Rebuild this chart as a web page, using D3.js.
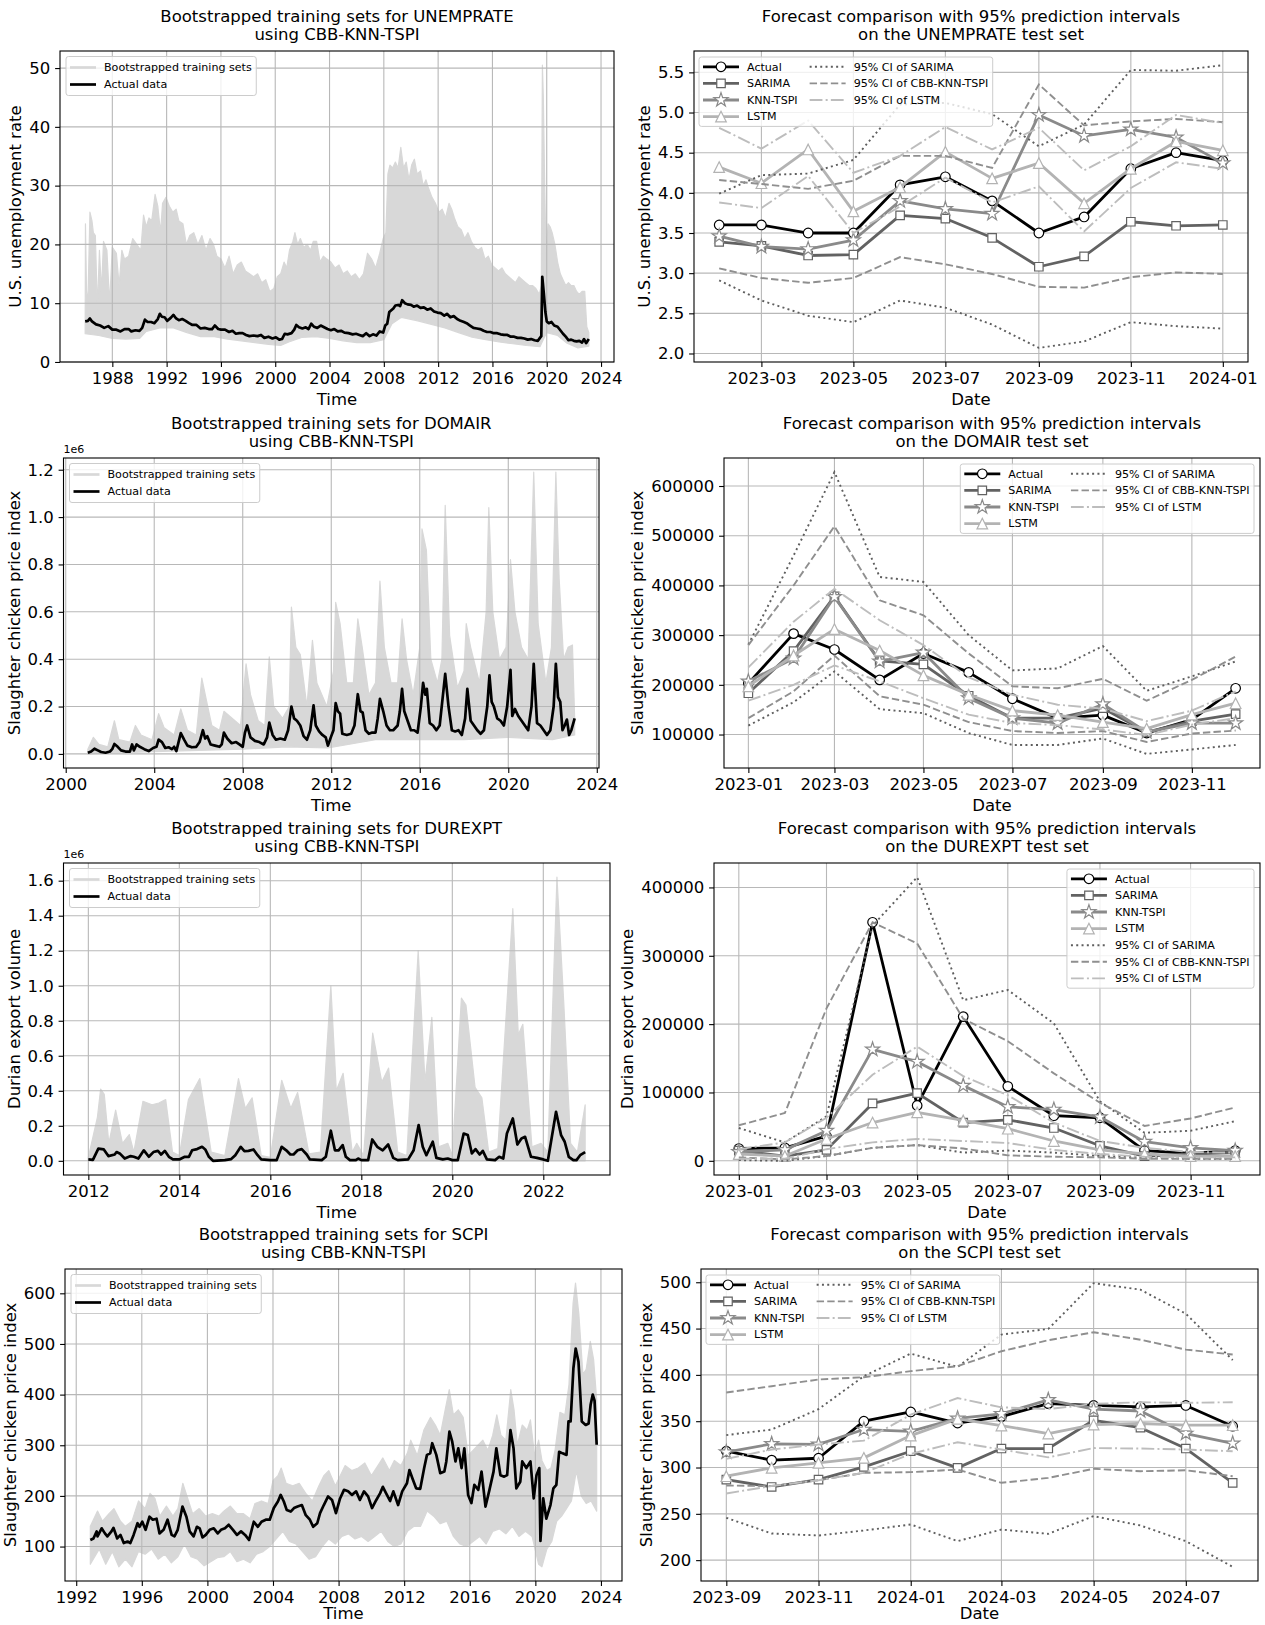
<!DOCTYPE html>
<html>
<head>
<meta charset="utf-8">
<script src="https://cdn.jsdelivr.net/npm/d3@7"></script>
<style>
  body { margin: 0; background: #fff; }
  text { font-family: "DejaVu Sans", "Liberation Sans", sans-serif; }
</style>
</head>
<body>
<svg id="fig" width="1265" height="1625"></svg>
<script>
// ---------- training data (decimal year, value) ----------
var unempActual = [[1986.0,6.9],[1986.2,7.0],[1986.35,7.4],[1986.5,6.9],[1986.8,6.4],[1987.1,6.2],[1987.4,5.8],[1987.7,6.1],[1988.0,5.5],[1988.3,5.5],[1988.6,5.2],[1988.9,5.6],[1989.2,5.6],[1989.4,5.2],[1989.7,5.4],[1990.0,5.3],[1990.2,5.8],[1990.4,7.2],[1990.6,6.8],[1990.85,6.8],[1991.1,6.6],[1991.35,7.3],[1991.5,8.2],[1991.65,7.7],[1991.85,7.6],[1992.05,7.0],[1992.3,7.5],[1992.5,8.0],[1992.7,7.4],[1992.9,7.1],[1993.15,7.3],[1993.4,7.0],[1993.65,6.6],[1993.9,6.3],[1994.2,6.3],[1994.5,5.7],[1994.8,5.8],[1995.1,5.6],[1995.35,5.6],[1995.55,6.2],[1995.8,5.6],[1996.0,5.5],[1996.3,5.5],[1996.6,5.1],[1996.85,5.3],[1997.1,4.8],[1997.35,4.9],[1997.6,4.9],[1997.85,4.6],[1998.1,4.4],[1998.4,4.5],[1998.7,4.4],[1998.95,4.6],[1999.2,4.1],[1999.5,4.3],[1999.8,4.0],[2000.05,4.2],[2000.3,3.8],[2000.5,3.9],[2000.7,4.8],[2000.9,4.7],[2001.2,4.9],[2001.4,5.5],[2001.55,6.3],[2001.75,5.9],[2002.0,5.7],[2002.25,5.9],[2002.45,5.6],[2002.65,6.5],[2002.85,6.0],[2003.1,5.8],[2003.35,6.2],[2003.6,5.9],[2003.85,5.6],[2004.1,5.4],[2004.35,5.6],[2004.6,5.2],[2004.85,5.3],[2005.1,5.0],[2005.4,4.9],[2005.7,4.7],[2005.95,4.8],[2006.2,4.6],[2006.45,4.4],[2006.7,4.9],[2006.95,4.4],[2007.2,4.7],[2007.45,4.5],[2007.7,5.2],[2007.95,5.0],[2008.1,6.2],[2008.25,6.5],[2008.4,8.5],[2008.55,8.8],[2008.7,9.1],[2008.85,9.6],[2009.05,9.7],[2009.2,9.5],[2009.35,10.5],[2009.55,10.0],[2009.75,9.8],[2010.0,9.7],[2010.2,9.4],[2010.45,9.6],[2010.7,9.2],[2010.95,9.3],[2011.2,8.9],[2011.45,9.1],[2011.7,8.6],[2011.95,8.4],[2012.2,8.3],[2012.45,7.9],[2012.65,8.2],[2012.9,7.6],[2013.15,7.8],[2013.4,7.3],[2013.65,7.0],[2013.9,6.8],[2014.1,6.6],[2014.35,6.2],[2014.6,5.8],[2014.85,5.7],[2015.1,5.6],[2015.35,5.3],[2015.6,5.1],[2015.85,5.1],[2016.1,4.9],[2016.35,4.9],[2016.6,4.7],[2016.85,4.6],[2017.1,4.6],[2017.35,4.3],[2017.6,4.3],[2017.85,4.1],[2018.1,4.1],[2018.35,4.0],[2018.6,3.8],[2018.85,3.9],[2019.1,3.7],[2019.35,3.6],[2019.5,4.1],[2019.6,4.4],[2019.67,14.5],[2019.78,11.8],[2019.9,8.5],[2020.0,6.9],[2020.15,6.6],[2020.35,6.8],[2020.55,6.2],[2020.8,6.0],[2021.0,5.4],[2021.2,4.8],[2021.4,4.3],[2021.6,3.7],[2021.8,3.8],[2022.0,3.6],[2022.2,3.5],[2022.4,3.6],[2022.6,3.3],[2022.75,3.9],[2022.9,3.2],[2023.1,3.9]];
var unempBandUpper = [[1986.0,6],[1986.02,23.5],[1986.1,12],[1986.2,10],[1986.35,25.5],[1986.5,24],[1986.6,22],[1986.75,21.5],[1986.9,9],[1987.05,19],[1987.2,12],[1987.35,20.5],[1987.6,19],[1987.8,10],[1988.0,19.5],[1988.3,18.5],[1988.5,13],[1988.7,19],[1988.9,17.5],[1989.2,18],[1989.5,21],[1989.8,20],[1990.1,19],[1990.3,25],[1990.5,23],[1990.7,24.5],[1990.9,24],[1991.15,28.5],[1991.35,26.5],[1991.55,22],[1991.7,27],[1991.95,28],[1992.2,26.5],[1992.45,25.5],[1992.7,26],[1992.9,24],[1993.2,23.5],[1993.45,20],[1993.7,21.5],[1994.0,22],[1994.3,20],[1994.6,21.5],[1994.9,19],[1995.2,21],[1995.45,20],[1995.7,18],[1996.0,17.5],[1996.3,16],[1996.6,18],[1996.9,15],[1997.2,16.5],[1997.5,17],[1997.8,15.5],[1998.1,15],[1998.4,14.5],[1998.7,15],[1999.0,13.5],[1999.3,14],[1999.6,12],[1999.9,12.5],[2000.15,14.5],[2000.4,15],[2000.65,17],[2000.85,16],[2001.05,19],[2001.3,20.5],[2001.45,22],[2001.65,20],[2001.85,21],[2002.1,19.5],[2002.35,20],[2002.6,19],[2002.8,20.5],[2003.05,20.5],[2003.3,17],[2003.55,18],[2003.8,17.5],[2004.1,17],[2004.4,16],[2004.7,16.5],[2005.0,15],[2005.3,15.5],[2005.6,14.5],[2005.9,15],[2006.2,14],[2006.5,15],[2006.8,18.5],[2007.1,17.5],[2007.4,16],[2007.7,18.5],[2007.95,21],[2008.15,22],[2008.3,32],[2008.45,33.5],[2008.65,33],[2008.85,34],[2009.05,33],[2009.25,36.5],[2009.45,33],[2009.65,34],[2009.85,31],[2010.05,33.5],[2010.25,34.5],[2010.45,32],[2010.7,32.5],[2010.9,30],[2011.1,31],[2011.3,29.5],[2011.55,28],[2011.8,27],[2012.05,25.5],[2012.3,26],[2012.55,24.5],[2012.8,27],[2013.0,26],[2013.2,24.5],[2013.45,23],[2013.7,22.5],[2013.95,21],[2014.2,22],[2014.45,20.5],[2014.7,19.5],[2014.95,19],[2015.2,19.5],[2015.45,17.5],[2015.7,18],[2015.95,16.5],[2016.2,16],[2016.45,15.5],[2016.7,16],[2016.95,15],[2017.2,14.5],[2017.45,14],[2017.7,13.5],[2017.95,14.5],[2018.2,14],[2018.45,13.5],[2018.7,13],[2018.95,13],[2019.2,12.5],[2019.45,11.5],[2019.6,13],[2019.68,50.5],[2019.75,45],[2019.85,30],[2019.95,18],[2020.1,23.5],[2020.25,23],[2020.4,22],[2020.6,20],[2020.8,17],[2021.0,15],[2021.2,14],[2021.4,13],[2021.6,13.5],[2021.8,13],[2022.0,13],[2022.2,12],[2022.4,11.5],[2022.6,12],[2022.8,12],[2022.95,6],[2023.1,5]];
var unempBandLower = [[1986.0,4.8],[1987.0,4.5],[1988.0,4.0],[1989.0,3.9],[1990.0,4.0],[1990.5,5.2],[1991.5,5.8],[1992.5,5.8],[1993.5,5.0],[1994.5,4.3],[1995.5,4.3],[1996.5,3.9],[1997.5,3.6],[1998.5,3.3],[1999.5,3.0],[2000.4,2.8],[2001.0,3.4],[2002.0,4.2],[2003.0,4.3],[2004.0,4.0],[2005.0,3.6],[2006.0,3.3],[2007.0,3.3],[2008.0,3.8],[2008.6,6.5],[2009.3,7.6],[2010.5,7.0],[2011.5,6.4],[2012.5,5.8],[2013.5,5.0],[2014.5,4.2],[2015.5,3.8],[2016.5,3.4],[2017.5,3.1],[2018.5,2.8],[2019.5,2.6],[2019.68,3.5],[2020.0,5.0],[2020.8,4.5],[2021.5,3.2],[2022.3,2.4],[2023.1,2.7]];

// DOMAIR and DUREXPT values are in units of 1e6 (the axis offset)
var domairActual = [[2001.0,0.005],[2001.15,0.01],[2001.3,0.022],[2001.45,0.015],[2001.6,0.008],[2001.8,0.005],[2002.0,0.01],[2002.1,0.02],[2002.2,0.042],[2002.35,0.03],[2002.5,0.015],[2002.7,0.01],[2002.9,0.01],[2003.0,0.04],[2003.08,0.015],[2003.2,0.04],[2003.35,0.03],[2003.55,0.02],[2003.75,0.012],[2003.95,0.025],[2004.1,0.03],[2004.2,0.06],[2004.35,0.05],[2004.5,0.025],[2004.65,0.028],[2004.8,0.02],[2004.9,0.03],[2005.0,0.012],[2005.2,0.088],[2005.35,0.06],[2005.5,0.035],[2005.7,0.028],[2005.9,0.03],[2006.05,0.05],[2006.2,0.1],[2006.3,0.065],[2006.4,0.075],[2006.55,0.04],[2006.75,0.035],[2006.95,0.03],[2007.05,0.04],[2007.15,0.09],[2007.3,0.065],[2007.5,0.045],[2007.7,0.05],[2007.85,0.04],[2008.0,0.03],[2008.1,0.09],[2008.2,0.12],[2008.35,0.07],[2008.55,0.055],[2008.75,0.05],[2008.95,0.04],[2009.1,0.07],[2009.2,0.132],[2009.35,0.08],[2009.5,0.06],[2009.7,0.065],[2009.9,0.06],[2010.05,0.1],[2010.2,0.2],[2010.32,0.15],[2010.45,0.14],[2010.6,0.12],[2010.75,0.075],[2010.9,0.06],[2011.05,0.1],[2011.2,0.205],[2011.3,0.12],[2011.45,0.095],[2011.6,0.08],[2011.75,0.07],[2011.85,0.035],[2012.0,0.075],[2012.1,0.1],[2012.2,0.215],[2012.3,0.18],[2012.4,0.17],[2012.5,0.085],[2012.7,0.08],[2012.9,0.085],[2013.05,0.12],[2013.2,0.252],[2013.32,0.18],[2013.42,0.175],[2013.55,0.1],[2013.7,0.085],[2013.85,0.09],[2014.0,0.09],[2014.1,0.15],[2014.2,0.232],[2014.35,0.18],[2014.5,0.12],[2014.65,0.1],[2014.8,0.1],[2015.0,0.12],[2015.1,0.18],[2015.2,0.275],[2015.3,0.18],[2015.45,0.14],[2015.6,0.1],[2015.75,0.1],[2015.9,0.09],[2016.05,0.2],[2016.15,0.3],[2016.25,0.25],[2016.32,0.275],[2016.45,0.13],[2016.6,0.12],[2016.75,0.1],[2016.9,0.12],[2017.05,0.25],[2017.15,0.338],[2017.3,0.2],[2017.45,0.1],[2017.6,0.095],[2017.75,0.1],[2017.9,0.08],[2018.05,0.15],[2018.15,0.275],[2018.3,0.14],[2018.45,0.12],[2018.6,0.1],[2018.75,0.085],[2018.9,0.1],[2019.05,0.2],[2019.15,0.332],[2019.25,0.22],[2019.35,0.2],[2019.5,0.15],[2019.65,0.14],[2019.8,0.12],[2019.95,0.2],[2020.1,0.355],[2020.18,0.16],[2020.3,0.19],[2020.45,0.16],[2020.6,0.14],[2020.75,0.12],[2020.9,0.1],[2021.05,0.2],[2021.15,0.38],[2021.3,0.13],[2021.45,0.12],[2021.6,0.1],[2021.75,0.08],[2021.9,0.1],[2022.05,0.2],[2022.15,0.38],[2022.25,0.24],[2022.35,0.22],[2022.45,0.1],[2022.55,0.12],[2022.65,0.145],[2022.75,0.08],[2022.85,0.1],[2023.0,0.15]];
var domairBandUpper = [[2001.0,0.02],[2001.25,0.07],[2001.5,0.04],[2001.9,0.03],[2002.2,0.14],[2002.4,0.06],[2002.9,0.05],[2003.15,0.12],[2003.4,0.08],[2003.9,0.06],[2004.2,0.17],[2004.45,0.11],[2004.9,0.08],[2005.2,0.19],[2005.5,0.1],[2005.9,0.08],[2006.15,0.32],[2006.35,0.23],[2006.6,0.12],[2006.95,0.1],[2007.15,0.18],[2007.4,0.16],[2007.9,0.12],[2008.15,0.38],[2008.35,0.25],[2008.7,0.14],[2009.0,0.12],[2009.2,0.41],[2009.4,0.2],[2009.8,0.15],[2010.1,0.2],[2010.2,0.62],[2010.4,0.45],[2010.6,0.42],[2010.9,0.2],[2011.15,0.48],[2011.35,0.3],[2011.8,0.2],[2012.1,0.35],[2012.2,0.64],[2012.4,0.55],[2012.7,0.3],[2013.0,0.3],[2013.2,0.57],[2013.4,0.45],[2013.7,0.25],[2014.0,0.3],[2014.2,0.73],[2014.4,0.45],[2014.7,0.3],[2015.0,0.3],[2015.2,0.57],[2015.4,0.4],[2015.7,0.25],[2016.0,0.45],[2016.1,0.95],[2016.3,0.86],[2016.5,0.4],[2016.8,0.3],[2017.0,0.4],[2017.15,1.05],[2017.35,0.5],[2017.7,0.28],[2018.0,0.35],[2018.1,0.55],[2018.3,0.45],[2018.7,0.3],[2019.0,0.6],[2019.12,1.04],[2019.3,0.6],[2019.6,0.4],[2019.9,0.45],[2020.1,0.82],[2020.3,0.6],[2020.6,0.45],[2020.9,0.4],[2021.15,1.19],[2021.35,0.55],[2021.7,0.3],[2021.95,0.45],[2022.15,1.19],[2022.3,0.74],[2022.5,0.4],[2022.7,0.45],[2022.9,0.46],[2023.0,0.15]];
var domairBandLower = [[2001.0,0.0],[2004.0,0.01],[2008.0,0.02],[2010.0,0.03],[2011.85,0.025],[2014.0,0.06],[2016.0,0.06],[2018.0,0.06],[2020.0,0.07],[2022.0,0.06],[2023.0,0.08]];

var durActual = [[2012.0,0.008],[2012.1,0.005],[2012.22,0.07],[2012.34,0.065],[2012.44,0.027],[2012.58,0.036],[2012.62,0.05],[2012.7,0.04],[2012.8,0.013],[2012.93,0.027],[2013.0,0.023],[2013.1,0.013],[2013.22,0.06],[2013.33,0.023],[2013.43,0.05],[2013.53,0.057],[2013.6,0.036],[2013.68,0.057],[2013.77,0.023],[2013.86,0.008],[2014.0,0.008],[2014.12,0.023],[2014.21,0.023],[2014.28,0.06],[2014.39,0.067],[2014.5,0.08],[2014.57,0.065],[2014.65,0.023],[2014.74,0.0],[2015.0,0.004],[2015.14,0.01],[2015.23,0.032],[2015.35,0.08],[2015.43,0.055],[2015.52,0.057],[2015.63,0.065],[2015.72,0.032],[2015.8,0.008],[2016.0,0.004],[2016.14,0.004],[2016.25,0.08],[2016.35,0.06],[2016.44,0.036],[2016.51,0.036],[2016.6,0.06],[2016.69,0.067],[2016.8,0.036],[2016.87,0.008],[2017.13,0.004],[2017.22,0.023],[2017.33,0.172],[2017.42,0.06],[2017.5,0.06],[2017.59,0.09],[2017.66,0.023],[2017.75,0.004],[2017.88,0.004],[2017.93,0.013],[2018.0,0.004],[2018.15,0.004],[2018.24,0.122],[2018.35,0.08],[2018.47,0.06],[2018.59,0.093],[2018.7,0.017],[2018.8,0.004],[2019.03,0.008],[2019.15,0.06],[2019.26,0.204],[2019.35,0.08],[2019.43,0.032],[2019.57,0.109],[2019.65,0.017],[2019.79,0.008],[2019.9,0.013],[2020.0,0.004],[2020.12,0.004],[2020.25,0.156],[2020.34,0.147],[2020.43,0.042],[2020.51,0.067],[2020.6,0.036],[2020.67,0.057],[2020.76,0.008],[2020.94,0.004],[2021.03,0.023],[2021.12,0.013],[2021.2,0.156],[2021.33,0.242],[2021.43,0.093],[2021.52,0.128],[2021.6,0.137],[2021.73,0.023],[2021.86,0.017],[2022.0,0.008],[2022.1,0.0],[2022.28,0.28],[2022.39,0.147],[2022.47,0.109],[2022.56,0.023],[2022.66,0.004],[2022.73,0.004],[2022.81,0.032],[2022.92,0.05]];
var durBandUpper = [[2012.0,0.02],[2012.2,0.25],[2012.27,0.41],[2012.35,0.38],[2012.45,0.1],[2012.6,0.29],[2012.75,0.1],[2012.9,0.15],[2013.0,0.05],[2013.2,0.34],[2013.4,0.32],[2013.55,0.33],[2013.7,0.35],[2013.85,0.05],[2014.0,0.03],[2014.2,0.35],[2014.45,0.47],[2014.7,0.05],[2015.0,0.03],[2015.3,0.47],[2015.45,0.3],[2015.6,0.36],[2015.8,0.03],[2016.0,0.02],[2016.25,0.46],[2016.45,0.3],[2016.6,0.39],[2016.85,0.04],[2017.1,0.05],[2017.33,1.0],[2017.45,0.4],[2017.6,0.5],[2017.8,0.05],[2017.9,0.1],[2018.05,0.03],[2018.25,0.73],[2018.45,0.45],[2018.6,0.53],[2018.8,0.05],[2019.0,0.03],[2019.25,1.2],[2019.4,0.45],[2019.55,0.82],[2019.7,0.08],[2019.9,0.1],[2020.0,0.03],[2020.2,0.93],[2020.3,0.89],[2020.5,0.42],[2020.65,0.36],[2020.8,0.05],[2021.0,0.07],[2021.33,1.44],[2021.45,0.72],[2021.55,0.78],[2021.75,0.08],[2021.95,0.1],[2022.1,0.05],[2022.3,1.62],[2022.45,0.9],[2022.6,0.1],[2022.75,0.05],[2022.92,0.32]];
var durBandLower = [[2012.0,0.0],[2022.92,0.0]];

var scpiActual = [[1992.86,113],[1993.05,116],[1993.25,130],[1993.3,120],[1993.55,136],[1993.75,126],[1993.9,120],[1994.15,130],[1994.27,137],[1994.5,116],[1994.7,123],[1994.9,107],[1995.13,110],[1995.3,107],[1995.5,123],[1995.74,146],[1995.86,139],[1996.03,149],[1996.23,133],[1996.47,159],[1996.67,153],[1996.9,155],[1997.08,126],[1997.33,133],[1997.57,153],[1997.82,123],[1997.99,120],[1998.19,133],[1998.48,179],[1998.72,159],[1998.92,130],[1999.16,120],[1999.36,139],[1999.53,136],[1999.7,118],[1999.9,123],[2000.14,133],[2000.39,136],[2000.63,126],[2000.83,133],[2001.07,136],[2001.3,143],[2001.56,133],[2001.8,123],[2002.05,130],[2002.3,123],[2002.54,113],[2002.83,149],[2003.08,139],[2003.3,149],[2003.56,153],[2003.8,153],[2004.05,176],[2004.3,189],[2004.47,202],[2004.66,189],[2004.84,172],[2005.08,169],[2005.28,176],[2005.5,179],[2005.76,182],[2006.0,162],[2006.25,153],[2006.45,139],[2006.7,146],[2006.87,166],[2007.1,182],[2007.36,199],[2007.6,192],[2007.84,166],[2008.09,195],[2008.33,212],[2008.58,209],[2008.82,202],[2009.07,209],[2009.3,192],[2009.55,209],[2009.8,199],[2010.04,176],[2010.3,192],[2010.53,205],[2010.7,218],[2010.9,205],[2011.14,190],[2011.34,209],[2011.63,182],[2011.88,209],[2012.17,225],[2012.32,251],[2012.5,235],[2012.73,215],[2012.98,214],[2013.22,255],[2013.39,281],[2013.59,284],[2013.71,304],[2013.96,281],[2014.2,245],[2014.45,248],[2014.57,268],[2014.76,327],[2014.93,307],[2015.13,268],[2015.3,294],[2015.5,255],[2015.67,294],[2015.9,202],[2016.1,186],[2016.28,222],[2016.52,212],[2016.72,248],[2016.96,179],[2017.2,212],[2017.45,248],[2017.62,294],[2017.87,241],[2018.1,238],[2018.28,241],[2018.48,330],[2018.67,294],[2018.84,215],[2019.08,228],[2019.2,268],[2019.45,255],[2019.7,268],[2019.9,195],[2020.07,241],[2020.24,255],[2020.31,111],[2020.48,195],[2020.67,155],[2020.92,182],[2021.1,215],[2021.28,222],[2021.45,287],[2021.66,284],[2021.9,281],[2022.02,347],[2022.15,347],[2022.32,452],[2022.46,491],[2022.63,465],[2022.83,347],[2023.07,340],[2023.25,343],[2023.37,380],[2023.5,400],[2023.61,388],[2023.74,301]];
var scpiBandUpper = [[1992.86,140],[1993.3,170],[1993.6,150],[1994.0,165],[1994.3,175],[1994.7,150],[1995.0,140],[1995.4,150],[1995.8,190],[1996.2,175],[1996.5,205],[1996.8,195],[1997.1,160],[1997.5,180],[1997.9,160],[1998.2,175],[1998.5,225],[1998.8,195],[1999.1,165],[1999.5,175],[1999.9,160],[2000.3,165],[2000.7,160],[2001.0,170],[2001.4,180],[2001.8,165],[2002.2,165],[2002.6,155],[2002.9,185],[2003.3,190],[2003.7,185],[2004.0,230],[2004.3,240],[2004.5,255],[2004.8,225],[2005.2,220],[2005.6,225],[2006.0,205],[2006.4,190],[2006.8,220],[2007.1,240],[2007.4,250],[2007.8,220],[2008.1,240],[2008.4,260],[2008.8,250],[2009.2,255],[2009.6,265],[2010.0,240],[2010.4,260],[2010.7,275],[2011.1,250],[2011.4,270],[2011.8,260],[2012.2,285],[2012.4,310],[2012.8,280],[2013.2,330],[2013.6,355],[2013.9,340],[2014.2,320],[2014.5,370],[2014.75,410],[2015.0,360],[2015.3,370],[2015.6,355],[2015.9,280],[2016.2,290],[2016.5,300],[2016.8,310],[2017.1,290],[2017.4,320],[2017.65,360],[2017.9,320],[2018.2,310],[2018.5,410],[2018.7,370],[2018.9,300],[2019.2,340],[2019.5,330],[2019.7,350],[2019.95,280],[2020.2,310],[2020.4,270],[2020.7,250],[2020.95,255],[2021.2,290],[2021.5,365],[2021.8,360],[2022.05,420],[2022.3,580],[2022.45,620],[2022.65,560],[2022.9,440],[2023.1,450],[2023.35,505],[2023.55,470],[2023.74,390]];
var scpiBandLower = [[1992.86,65],[1993.4,95],[1993.8,65],[1994.2,90],[1994.6,60],[1995.0,75],[1995.4,60],[1995.8,90],[1996.2,85],[1996.6,95],[1997.0,75],[1997.4,85],[1997.8,68],[1998.2,80],[1998.6,105],[1999.0,80],[1999.4,75],[1999.8,62],[2000.2,70],[2000.6,78],[2001.0,80],[2001.4,90],[2001.8,70],[2002.2,75],[2002.6,68],[2003.0,85],[2003.4,90],[2003.8,100],[2004.2,115],[2004.6,130],[2005.0,110],[2005.4,105],[2005.8,90],[2006.2,75],[2006.6,80],[2007.0,100],[2007.4,115],[2007.8,105],[2008.2,120],[2008.6,125],[2009.0,115],[2009.4,120],[2009.8,110],[2010.2,120],[2010.6,130],[2011.0,110],[2011.4,100],[2011.8,105],[2012.2,130],[2012.6,140],[2013.0,140],[2013.4,170],[2013.8,160],[2014.2,145],[2014.6,150],[2015.0,120],[2015.4,105],[2015.8,100],[2016.2,110],[2016.6,120],[2017.0,105],[2017.4,130],[2017.8,135],[2018.2,125],[2018.6,140],[2019.0,120],[2019.4,130],[2019.8,120],[2020.2,65],[2020.4,60],[2020.7,95],[2021.0,110],[2021.3,150],[2021.6,160],[2021.9,175],[2022.2,190],[2022.5,250],[2022.8,200],[2023.1,185],[2023.4,190],[2023.74,170]];

// ---------- test-set forecasts (one value per month) ----------
var unempMonths = ["2023-02","2023-03","2023-04","2023-05","2023-06","2023-07","2023-08","2023-09","2023-10","2023-11","2023-12","2024-01"];
var unempTestActual = [3.6,3.6,3.5,3.5,4.1,4.2,3.9,3.5,3.7,4.3,4.5,4.4];
var unempSarima = [3.39,3.34,3.22,3.23,3.72,3.68,3.44,3.08,3.21,3.64,3.59,3.60];
var unempKnn = [3.46,3.33,3.30,3.41,3.90,3.80,3.74,4.97,4.71,4.79,4.69,4.37];
var unempLstm = [4.32,4.12,4.54,3.77,4.07,4.51,4.18,4.37,3.87,4.30,4.64,4.53];
var unempSarimaLo = [2.91,2.66,2.47,2.39,2.66,2.57,2.36,2.07,2.15,2.39,2.34,2.31];
var unempSarimaHi = [3.99,4.22,4.24,4.41,5.10,5.12,4.98,4.58,4.85,5.53,5.52,5.59];
var unempCbbLo = [3.06,2.94,2.88,2.94,3.20,3.11,2.99,2.83,2.82,2.95,3.01,2.99];
var unempCbbHi = [4.16,4.11,4.05,4.15,4.46,4.46,4.31,5.35,4.84,4.89,4.92,4.88];
var unempLstmLo = [3.88,3.81,4.21,3.50,3.83,4.19,3.88,4.08,3.52,4.06,4.38,4.30];
var unempLstmHi = [4.81,4.55,4.90,4.25,4.46,4.82,4.54,4.81,4.28,4.58,4.97,4.87];

var domairMonths = ["2023-01","2023-02","2023-03","2023-04","2023-05","2023-06","2023-07","2023-08","2023-09","2023-10","2023-11","2023-12"];
var domairTestActual = [203000,303000,271000,210000,263000,225000,172000,133000,139000,103000,130000,193000];
var domairSarima = [183000,268000,378000,248000,241000,178000,133000,133000,153000,105000,127000,141000];
var domairKnn = [207000,253000,377000,247000,265000,173000,133000,123000,161000,105000,123000,123000];
var domairLstm = [197000,259000,312000,269000,219000,180000,148000,139000,125000,112000,140000,163000];
var domairSarimaLo = [118000,165000,227000,151000,143000,103000,79000,79000,92000,61000,70000,79000];
var domairSarimaHi = [281000,460000,628000,417000,407000,300000,229000,233000,278000,188000,217000,247000];
var domairCbbLo = [133000,187000,259000,177000,160000,125000,107000,103000,107000,85000,102000,108000];
var domairCbbHi = [280000,400000,519000,370000,340000,263000,197000,193000,212000,168000,210000,257000];
var domairLstmLo = [168000,200000,239000,207000,173000,140000,123000,119000,110000,99000,120000,133000];
var domairLstmHi = [235000,327000,393000,330000,280000,215000,180000,160000,152000,127000,148000,187000];

var durMonths = domairMonths;
var durTestActual = [18000,19000,36000,349000,81000,211000,109000,66000,63000,15000,11000,15000];
var durSarima = [15000,7000,16000,84000,99000,56000,60000,48000,22000,7000,10000,12000];
var durKnn = [13000,16000,44000,163000,145000,110000,79000,75000,64000,28000,19000,15000];
var durLstm = [10000,7000,32000,56000,71000,59000,47000,29000,16000,10000,7000,7000];
var durSarimaLo = [1000,0,7000,19000,23000,12000,15000,12000,7000,5000,3000,3000];
var durSarimaHi = [48000,27000,65000,344000,415000,235000,250000,201000,87000,41000,44000,58000];
var durCbbLo = [5000,2000,7000,19000,23000,18000,8000,6000,5000,3000,3000,3000];
var durCbbHi = [52000,70000,223000,349000,318000,208000,175000,128000,85000,51000,62000,78000];
var durLstmLo = [3000,3000,17000,27000,32000,29000,26000,16000,10000,6000,5000,5000];
var durLstmHi = [17000,27000,63000,126000,167000,124000,96000,56000,29000,19000,13000,12000];

var scpiMonths = ["2023-09","2023-10","2023-11","2023-12","2024-01","2024-02","2024-03","2024-04","2024-05","2024-06","2024-07","2024-08"];
var scpiTestActual = [317.6,308,310,350,360,348,355,369,367,365.5,367,344.6];
var scpiSarima = [287,279,287,300.7,317.6,299.6,320.5,320.5,351,343,320.5,283.5];
var scpiKnn = [316.5,325.5,325,341,339,353,358,373,363,361,336.7,326];
var scpiLstm = [290.6,299.6,305,310.4,334.5,352.5,345.3,336.7,346.4,347.5,345.7,345.7];
var scpiSarimaLo = [245.7,228.8,226.6,232,238.5,220.5,233,228.4,247.5,237.4,220.5,192.8];
var scpiSarimaHi = [335,341,363,398.6,423,408.6,443.5,449.6,499,492,466,416];
var scpiCbbLo = [280.6,280,286.3,294.2,295,297.8,283.5,288.8,298.6,296,297,290.6];
var scpiCbbHi = [381,387.8,395,397.5,404,409.4,425.5,437.4,446,438,427.3,422];
var scpiLstmLo = [272,280,286.3,294.2,314.7,327.3,319.4,311,321,320.5,319.4,317.6];
var scpiLstmHi = [309.4,319.4,324.8,329,357,375,365,363,368.7,370.5,369.8,370.5];

// ---------- tick values ----------
var unempYearTicks = d3.range(1988, 2025, 4);
var domairYearTicks = d3.range(2000, 2025, 4);
var durYearTicks = d3.range(2012, 2023, 2);
var scpiYearTicks = d3.range(1992, 2025, 4);
var unempRateTicks = [0, 10, 20, 30, 40, 50];
var domairE6Ticks = [0, 0.2, 0.4, 0.6, 0.8, 1.0, 1.2];
var durE6Ticks = [0, 0.2, 0.4, 0.6, 0.8, 1.0, 1.2, 1.4, 1.6];
var scpiIndexTicks = [100, 200, 300, 400, 500, 600];
var unempTestTicks = [2.0, 2.5, 3.0, 3.5, 4.0, 4.5, 5.0, 5.5];
var domairTestTicks = [100000, 200000, 300000, 400000, 500000, 600000];
var durTestTicks = [0, 100000, 200000, 300000, 400000];
var scpiTestTicks = [200, 250, 300, 350, 400, 450, 500];

var svg = d3.select('#fig');
var BAND = '#d8d8d8', GRID = '#b8b8b8';
var FS = 16.5, LW = 1.1;
var parseMonth = d3.utcParse('%Y-%m');

function padDomain(ext) {
    var d = (ext[1] - ext[0]) * 0.05;
    return [ext[0] - d, ext[1] + d];
}

function translation(x, y) {
    return 'translate(' + x + ',' + y + ')';
}

// grid, axes, spines, labels and titles shared by every panel
function drawGrid(g, x, y, xt, yt, b) {
    g.selectAll(null).data(xt).enter().append('line')
        .attr('x1', function(d) { return x(d); }).attr('x2', function(d) { return x(d); })
        .attr('y1', b.T).attr('y2', b.B)
        .attr('stroke', GRID).attr('stroke-width', LW);
    g.selectAll(null).data(yt).enter().append('line')
        .attr('y1', function(d) { return y(d); }).attr('y2', function(d) { return y(d); })
        .attr('x1', b.L).attr('x2', b.R)
        .attr('stroke', GRID).attr('stroke-width', LW);
}

function drawFrame(g, x, y, p, b) {
    var ax = g.append('g').attr('transform', translation(0, b.B))
        .call(d3.axisBottom(x).tickValues(p.xTicks).tickFormat(p.xFmt)
            .tickSize(4.9).tickPadding(4.9).tickSizeOuter(0));
    var ay = g.append('g').attr('transform', translation(b.L, 0))
        .call(d3.axisLeft(y).tickValues(p.yTicks).tickFormat(p.yFmt)
            .tickSize(4.9).tickPadding(4.9).tickSizeOuter(0));
    [ax, ay].forEach(function(a) {
        a.select('.domain').remove();
        a.attr('font-size', FS).attr('font-family', '"DejaVu Sans", sans-serif');
        a.selectAll('text').attr('fill', '#000');
        a.selectAll('line').attr('stroke', '#000').attr('stroke-width', LW);
    });
    g.append('rect').attr('x', b.L).attr('y', b.T)
        .attr('width', b.R - b.L).attr('height', b.B - b.T)
        .attr('fill', 'none').attr('stroke', '#000').attr('stroke-width', LW);

    // the axis group's bbox is in its own (translated) coordinates
    var bb = ay.node().getBBox();
    g.append('text')
        .attr('transform', translation(b.L + bb.x - 13.5, (b.T + b.B) / 2) + ' rotate(-90)')
        .attr('dy', '0.35em').attr('text-anchor', 'middle')
        .attr('font-size', FS).text(p.ylabel);
    // keep the bottom row's label inside the page
    g.append('text').attr('x', (b.L + b.R) / 2).attr('y', Math.min(b.B + 42.5, 1619))
        .attr('text-anchor', 'middle').attr('font-size', FS).text(p.xlabel);
    p.title.forEach(function(t, i) {
        g.append('text').attr('x', (b.L + b.R) / 2)
            .attr('y', b.T - 11.5 - 18 * (p.title.length - 1 - i))
            .attr('text-anchor', 'middle').attr('font-size', FS).text(t);
    });
    if (p.offset) {
        g.append('text').attr('x', b.L).attr('y', b.T - 5)
            .attr('font-size', 11).text(p.offset);
    }
}

// legend: entries laid out column-wise like matplotlib
function drawLegend(g, entries, o) {
    var lg = g.append('g');
    var perCol = Math.ceil(entries.length / o.ncol);
    var cols = [];
    entries.forEach(function(e, i) {
        var c = Math.floor(i / perCol);
        (cols[c] = cols[c] || []).push({ e: e, r: i % perCol });
    });
    var cx = 4;
    cols.forEach(function(col) {
        var maxW = 0;
        col.forEach(function(it) {
            var yy = o.padY + it.r * o.rowH;
            var e = it.e;
            lg.append('line').attr('x1', cx).attr('x2', cx + o.handle)
                .attr('y1', yy).attr('y2', yy)
                .attr('stroke', e.color).attr('stroke-width', e.width)
                .attr('stroke-dasharray', e.dash || null);
            if (e.marker) {
                lg.append('path').attr('d', MARK[e.marker])
                    .attr('transform', translation(cx + o.handle / 2, yy))
                    .attr('fill', '#fff').attr('stroke', e.color).attr('stroke-width', 1.2);
            }
            var t = lg.append('text').attr('x', cx + o.handle + 8).attr('y', yy)
                .attr('dy', '0.35em').attr('font-size', 11.1).text(e.label);
            maxW = Math.max(maxW, t.node().getComputedTextLength());
        });
        cx += o.handle + 8 + maxW + o.colGap;
    });
    var w = cx - o.colGap + 4.5;
    var h = o.padY * 2 + (perCol - 1) * o.rowH;
    lg.insert('rect', ':first-child').attr('width', w).attr('height', h)
        .attr('rx', 2.5).attr('fill', '#fff').attr('fill-opacity', 0.8)
        .attr('stroke', '#cccccc').attr('stroke-width', 1);
    var x0 = o.right ? o.x - w : o.x;
    lg.attr('transform', translation(x0, o.y));
}

var MARK = {
    circle: d3.symbol(d3.symbolCircle, 72)(),
    square: d3.symbol(d3.symbolSquare, 72)(),
    star: d3.symbol(d3.symbolStar, 62)(),
    triangle: 'M0,-5.3L5.3,5.3L-5.3,5.3Z'
};

// ---------- left panels: bootstrapped band + actual series ----------
function leftPanel(p) {
    var b = p.box;
    var g = svg.append('g');
    var x = d3.scaleLinear().domain(padDomain(d3.extent(p.actual, function(d) { return d[0]; })))
        .range([b.L, b.R]);
    var allY = p.upper.concat(p.lower, p.actual);
    var y = d3.scaleLinear().domain(padDomain(d3.extent(allY, function(d) { return d[1]; })))
        .range([b.B, b.T]);
    var line = d3.line().x(function(d) { return x(d[0]); }).y(function(d) { return y(d[1]); });

    g.append('path').attr('d', line(p.upper.concat(p.lower.slice().reverse())) + 'Z')
        .attr('fill', BAND).attr('stroke', BAND).attr('stroke-width', 1.2)
        .attr('stroke-linejoin', 'round');
    drawGrid(g, x, y, p.xTicks, p.yTicks, b);
    g.append('path').attr('d', line(p.actual))
        .attr('fill', 'none').attr('stroke', '#000').attr('stroke-width', 2.7)
        .attr('stroke-linejoin', 'round');
    drawFrame(g, x, y, p, b);
    drawLegend(g, [
        { label: 'Bootstrapped training sets', color: BAND, width: 2.7 },
        { label: 'Actual data', color: '#000', width: 2.7 }
    ], { x: b.L + 6, y: b.T + 5.5, ncol: 1, handle: 26, rowH: 17, padY: 11, colGap: 0 });
}

// ---------- right panels: forecasts with 95% intervals ----------
var STY = {
    actual: { label: 'Actual', color: '#000000', width: 2.8, marker: 'circle' },
    sarima: { label: 'SARIMA', color: '#626262', width: 2.8, marker: 'square' },
    knn: { label: 'KNN-TSPI', color: '#8a8a8a', width: 2.8, marker: 'star' },
    lstm: { label: 'LSTM', color: '#b3b3b3', width: 2.8, marker: 'triangle' },
    ciSarima: { label: '95% CI of SARIMA', color: '#5e5e5e', width: 1.9, dash: '2,3.3' },
    ciCbb: { label: '95% CI of CBB-KNN-TSPI', color: '#8f8f8f', width: 1.9, dash: '7.4,3.2' },
    ciLstm: { label: '95% CI of LSTM', color: '#bdbdbd', width: 1.9, dash: '12.8,3.2,2,3.2' }
};

function rightPanel(p) {
    var b = p.box;
    var g = svg.append('g');
    var dates = p.months.map(parseMonth);
    var x = d3.scaleUtc().domain(padDomain(d3.extent(dates, function(d) { return +d; })))
        .range([b.L, b.R]);
    var allY = [];
    p.series.concat(p.bands).forEach(function(s) {
        (s.values ? [s.values] : [s.lo, s.hi]).forEach(function(v) { allY = allY.concat(v); });
    });
    var y = d3.scaleLinear().domain(padDomain(d3.extent(allY))).range([b.B, b.T]);
    p.xTicks = d3.utcMonth.every(2).range(x.domain()[0], x.domain()[1]);
    var line = d3.line().x(function(d, i) { return x(dates[i]); }).y(function(d) { return y(d); });

    drawGrid(g, x, y, p.xTicks, p.yTicks, b);
    p.series.forEach(function(s) {
        var st = STY[s.key];
        g.append('path').attr('d', line(s.values)).attr('fill', 'none')
            .attr('stroke', st.color).attr('stroke-width', st.width).attr('stroke-linejoin', 'round');
        g.selectAll(null).data(s.values).enter().append('path')
            .attr('d', MARK[st.marker])
            .attr('transform', function(d, i) { return translation(x(dates[i]), y(d)); })
            .attr('fill', '#fff').attr('stroke', st.color).attr('stroke-width', 1.2);
    });
    p.bands.forEach(function(s) {
        var st = STY[s.key];
        [s.lo, s.hi].forEach(function(v) {
            g.append('path').attr('d', line(v)).attr('fill', 'none')
                .attr('stroke', st.color).attr('stroke-width', st.width)
                .attr('stroke-dasharray', st.dash);
        });
    });
    drawFrame(g, x, y, p, b);
    var entries = ['actual', 'sarima', 'knn', 'lstm', 'ciSarima', 'ciCbb', 'ciLstm']
        .map(function(k) { return STY[k]; });
    drawLegend(g, entries, {
        x: p.legendRight ? b.R - 6 : b.L + 5, y: b.T + 6, right: p.legendRight,
        ncol: p.legendCols, handle: 36, rowH: 16.6, padY: 9.8, colGap: 12
    });
}

function testSeries(a, s, k, l) {
    return [{ key: 'actual', values: a }, { key: 'sarima', values: s },
            { key: 'knn', values: k }, { key: 'lstm', values: l }];
}
function testBands(sl, sh, cl, ch, ll, lh) {
    return [{ key: 'ciSarima', lo: sl, hi: sh }, { key: 'ciCbb', lo: cl, hi: ch },
            { key: 'ciLstm', lo: ll, hi: lh }];
}

var fmtInt = d3.format('d'), fmt1 = d3.format('.1f'), fmtMonth = d3.utcFormat('%Y-%m');
var leftTitle = function(n) { return ['Bootstrapped training sets for ' + n, 'using CBB-KNN-TSPI']; };
var rightTitle = function(n) { return ['Forecast comparison with 95% prediction intervals', 'on the ' + n + ' test set']; };

leftPanel({ box: { L: 60, T: 51, R: 614, B: 362 }, actual: unempActual, upper: unempBandUpper, lower: unempBandLower,
    xTicks: unempYearTicks, xFmt: fmtInt, yTicks: unempRateTicks, yFmt: fmtInt,
    title: leftTitle('UNEMPRATE'), xlabel: 'Time', ylabel: 'U.S. unemployment rate' });
leftPanel({ box: { L: 63.5, T: 458, R: 599, B: 768 }, actual: domairActual, upper: domairBandUpper, lower: domairBandLower,
    xTicks: domairYearTicks, xFmt: fmtInt, yTicks: domairE6Ticks, yFmt: fmt1, offset: '1e6',
    title: leftTitle('DOMAIR'), xlabel: 'Time', ylabel: 'Slaughter chicken price index' });
leftPanel({ box: { L: 63.5, T: 863, R: 610, B: 1175 }, actual: durActual, upper: durBandUpper, lower: durBandLower,
    xTicks: durYearTicks, xFmt: fmtInt, yTicks: durE6Ticks, yFmt: fmt1, offset: '1e6',
    title: leftTitle('DUREXPT'), xlabel: 'Time', ylabel: 'Durian export volume' });
leftPanel({ box: { L: 65, T: 1269, R: 622, B: 1581 }, actual: scpiActual, upper: scpiBandUpper, lower: scpiBandLower,
    xTicks: scpiYearTicks, xFmt: fmtInt, yTicks: scpiIndexTicks, yFmt: fmtInt,
    title: leftTitle('SCPI'), xlabel: 'Time', ylabel: 'Slaughter chicken price index' });

rightPanel({ box: { L: 694, T: 51, R: 1248, B: 362 }, months: unempMonths,
    series: testSeries(unempTestActual, unempSarima, unempKnn, unempLstm),
    bands: testBands(unempSarimaLo, unempSarimaHi, unempCbbLo, unempCbbHi, unempLstmLo, unempLstmHi),
    xFmt: fmtMonth, yTicks: unempTestTicks, yFmt: fmt1, legendCols: 2, legendRight: false,
    title: rightTitle('UNEMPRATE'), xlabel: 'Date', ylabel: 'U.S. unemployment rate' });
rightPanel({ box: { L: 724, T: 458, R: 1260, B: 768 }, months: domairMonths,
    series: testSeries(domairTestActual, domairSarima, domairKnn, domairLstm),
    bands: testBands(domairSarimaLo, domairSarimaHi, domairCbbLo, domairCbbHi, domairLstmLo, domairLstmHi),
    xFmt: fmtMonth, yTicks: domairTestTicks, yFmt: fmtInt, legendCols: 2, legendRight: true,
    title: rightTitle('DOMAIR'), xlabel: 'Date', ylabel: 'Slaughter chicken price index' });
rightPanel({ box: { L: 714, T: 863, R: 1260, B: 1175 }, months: durMonths,
    series: testSeries(durTestActual, durSarima, durKnn, durLstm),
    bands: testBands(durSarimaLo, durSarimaHi, durCbbLo, durCbbHi, durLstmLo, durLstmHi),
    xFmt: fmtMonth, yTicks: durTestTicks, yFmt: fmtInt, legendCols: 1, legendRight: true,
    title: rightTitle('DUREXPT'), xlabel: 'Date', ylabel: 'Durian export volume' });
rightPanel({ box: { L: 701, T: 1269, R: 1258, B: 1581 }, months: scpiMonths,
    series: testSeries(scpiTestActual, scpiSarima, scpiKnn, scpiLstm),
    bands: testBands(scpiSarimaLo, scpiSarimaHi, scpiCbbLo, scpiCbbHi, scpiLstmLo, scpiLstmHi),
    xFmt: fmtMonth, yTicks: scpiTestTicks, yFmt: fmtInt, legendCols: 2, legendRight: false,
    title: rightTitle('SCPI'), xlabel: 'Date', ylabel: 'Slaughter chicken price index' });
</script>
</body>
</html>
